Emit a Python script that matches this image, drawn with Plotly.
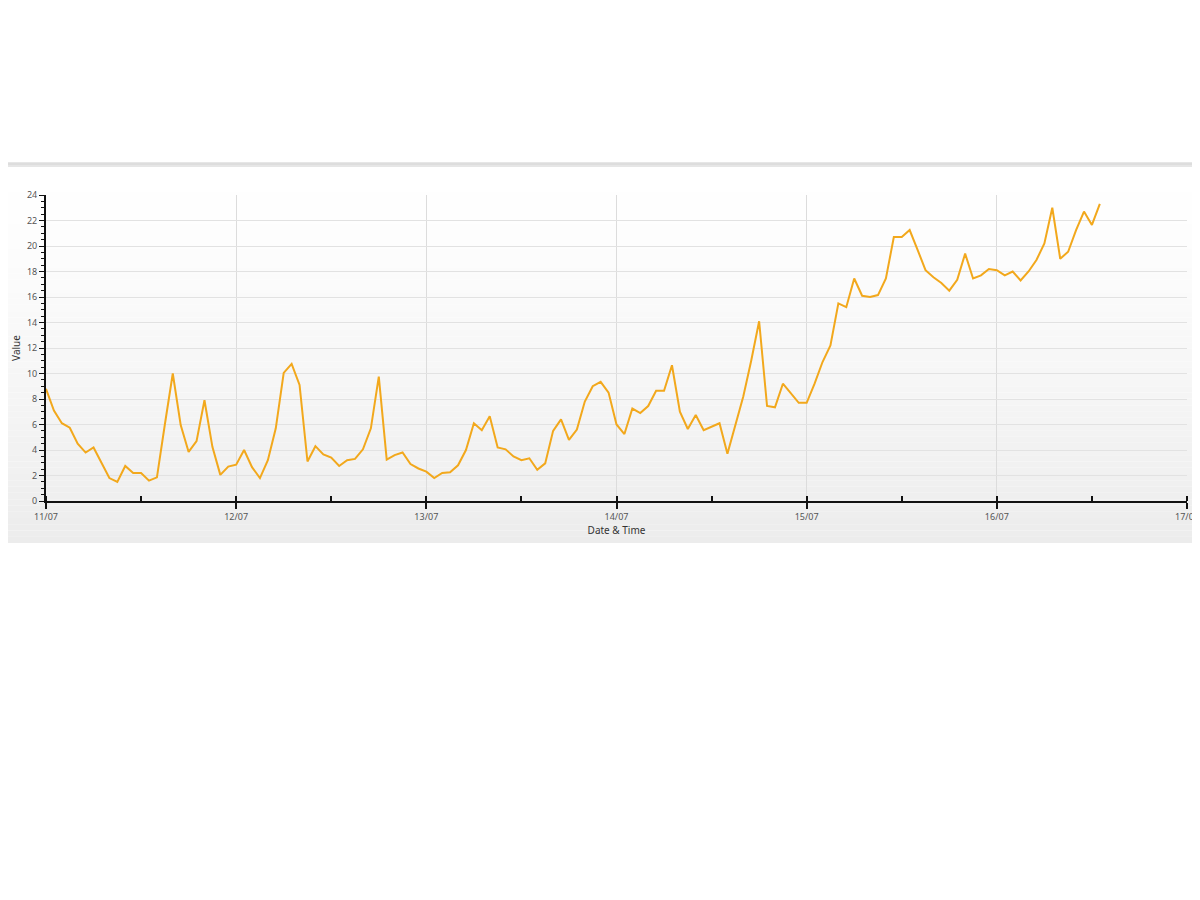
import pandas as pd
import plotly.graph_objects as go

# ---- data (hourly readings from 11/07 00:00) ----
start_time = "2013-07-11 00:00"
values = [
    8.8, 7.1, 6.1, 5.75, 4.5, 3.8, 4.2, 2.95, 1.8, 1.5, 2.75, 2.2,
    2.2, 1.6, 1.85, 6.0, 10.0, 5.95, 3.85, 4.7, 7.9, 4.25, 2.05, 2.7,
    2.85, 4.0, 2.65, 1.8, 3.2, 5.7, 10.05, 10.75, 9.1, 3.1, 4.3, 3.65,
    3.4, 2.75, 3.2, 3.3, 4.05, 5.7, 9.75, 3.25, 3.6, 3.8, 2.9, 2.55,
    2.3, 1.8, 2.2, 2.25, 2.8, 4.0, 6.1, 5.55, 6.65, 4.2, 4.05, 3.5,
    3.2, 3.35, 2.45, 2.95, 5.5, 6.4, 4.8, 5.6, 7.8, 9.0, 9.35, 8.5,
    6.0, 5.25, 7.25, 6.9, 7.45, 8.65, 8.65, 10.65, 7.0, 5.65, 6.75, 5.55,
    5.85, 6.1, 3.7, 6.0, 8.2, 11.0, 14.1, 7.45, 7.35, 9.2, 8.45, 7.7,
    7.7, 9.2, 10.9, 12.2, 15.5, 15.2, 17.45, 16.1, 16.0, 16.15, 17.45, 20.7,
    20.7, 21.25, 19.7, 18.1, 17.55, 17.1, 16.5, 17.35, 19.4, 17.45, 17.7, 18.2,
    18.1, 17.7, 18.0, 17.3, 18.0, 18.9, 20.2, 23.0, 19.0, 19.55, 21.25, 22.7,
    21.65, 23.3,
]
times = pd.date_range(start=start_time, periods=len(values), freq="h")

x_range = ["2013-07-11", "2013-07-17"]
y_range = [0, 24]
x_title = "Date & Time"
y_title = "Value"

# ---- layout geometry ----
# The page adds an 8px body margin, so page pixels are shifted by OFF.
OFF = 8
W, H = 1200 - OFF, 900 - OFF
PL, PR, PT, PB = 46 - OFF, 1187 - OFF, 195 - OFF, 501 - OFF  # plot area edges


def px_x(p):
    """page pixel x -> paper coordinate"""
    return (p - OFF - PL) / (PR - PL)


def px_y(p):
    """page pixel y -> paper coordinate"""
    return (PB - (p - OFF)) / (PB - PT)


shapes = []
# gradient panel background
top, bot = 167, 543
n = 60
for i in range(n):
    y0 = top + (bot - top) * i / n
    y1 = top + (bot - top) * (i + 1) / n
    t = (i + 0.5) / n
    c = int(round(255 - 19 * (t ** 1.3)))
    shapes.append(dict(type="rect", xref="paper", yref="paper",
                       x0=px_x(0), x1=px_x(1197), y0=px_y(y1), y1=px_y(y0),
                       fillcolor=f"rgb({c},{c},{c})", line=dict(width=0),
                       layer="below"))
# top separator bar
shapes.append(dict(type="rect", xref="paper", yref="paper",
                   x0=px_x(0), x1=px_x(1197), y0=px_y(167), y1=px_y(162),
                   fillcolor="#e6e6e6", line=dict(width=0), layer="below"))
shapes.append(dict(type="line", xref="paper", yref="paper",
                   x0=px_x(0), x1=px_x(1197), y0=px_y(164), y1=px_y(164),
                   line=dict(color="#d4d4d4", width=1), layer="below"))
# right light-blue edge
shapes.append(dict(type="line", xref="paper", yref="paper",
                   x0=px_x(1197.5), x1=px_x(1197.5), y0=px_y(160), y1=px_y(250),
                   line=dict(color="#9fd3ee", width=2), layer="above"))

fig = go.Figure()
fig.add_trace(go.Scatter(
    x=times, y=values, mode="lines",
    line=dict(color="#F2A81C", width=2),
    hoverinfo="skip", showlegend=False,
))

font_family = "Noto Sans, Open Sans, sans-serif"

fig.update_layout(
    width=W, height=H,
    margin=dict(l=PL, r=W - PR, t=PT, b=H - PB, pad=0),
    paper_bgcolor="white",
    plot_bgcolor="rgba(0,0,0,0)",
    shapes=shapes,
    showlegend=False,
    font=dict(family=font_family, size=9, color="#555555"),
    xaxis=dict(
        type="date", range=x_range, tickformat="%d/%m", dtick=86400000,
        tick0="2013-07-11",
        showgrid=True, gridcolor="#dcdcdc", gridwidth=1,
        showline=True, linecolor="#111111", linewidth=2,
        ticks="outside", ticklen=6, tickwidth=2, tickcolor="#111111",
        minor=dict(dtick=43200000, ticks="inside", ticklen=5, tickwidth=2,
                   tickcolor="#111111", showgrid=False),
        tickfont=dict(size=9, color="#555555"),
        title=dict(text=x_title, standoff=2,
                   font=dict(size=10, color="#333333")),
        zeroline=False, automargin=False, fixedrange=True,
    ),
    yaxis=dict(
        range=y_range, dtick=2, tick0=0,
        showgrid=True, gridcolor="#e2e2e2", gridwidth=1,
        showline=True, linecolor="#111111", linewidth=2,
        ticks="outside", ticklen=5, tickwidth=1, tickcolor="#111111",
        minor=dict(dtick=0.5, ticks="outside", ticklen=3, tickwidth=1,
                   tickcolor="#111111", showgrid=False),
        tickfont=dict(size=9, color="#555555"),
        title=dict(text=y_title, standoff=4,
                   font=dict(size=10, color="#333333")),
        zeroline=False, automargin=False, fixedrange=True,
    ),
)

fig.write_html("out.html")
